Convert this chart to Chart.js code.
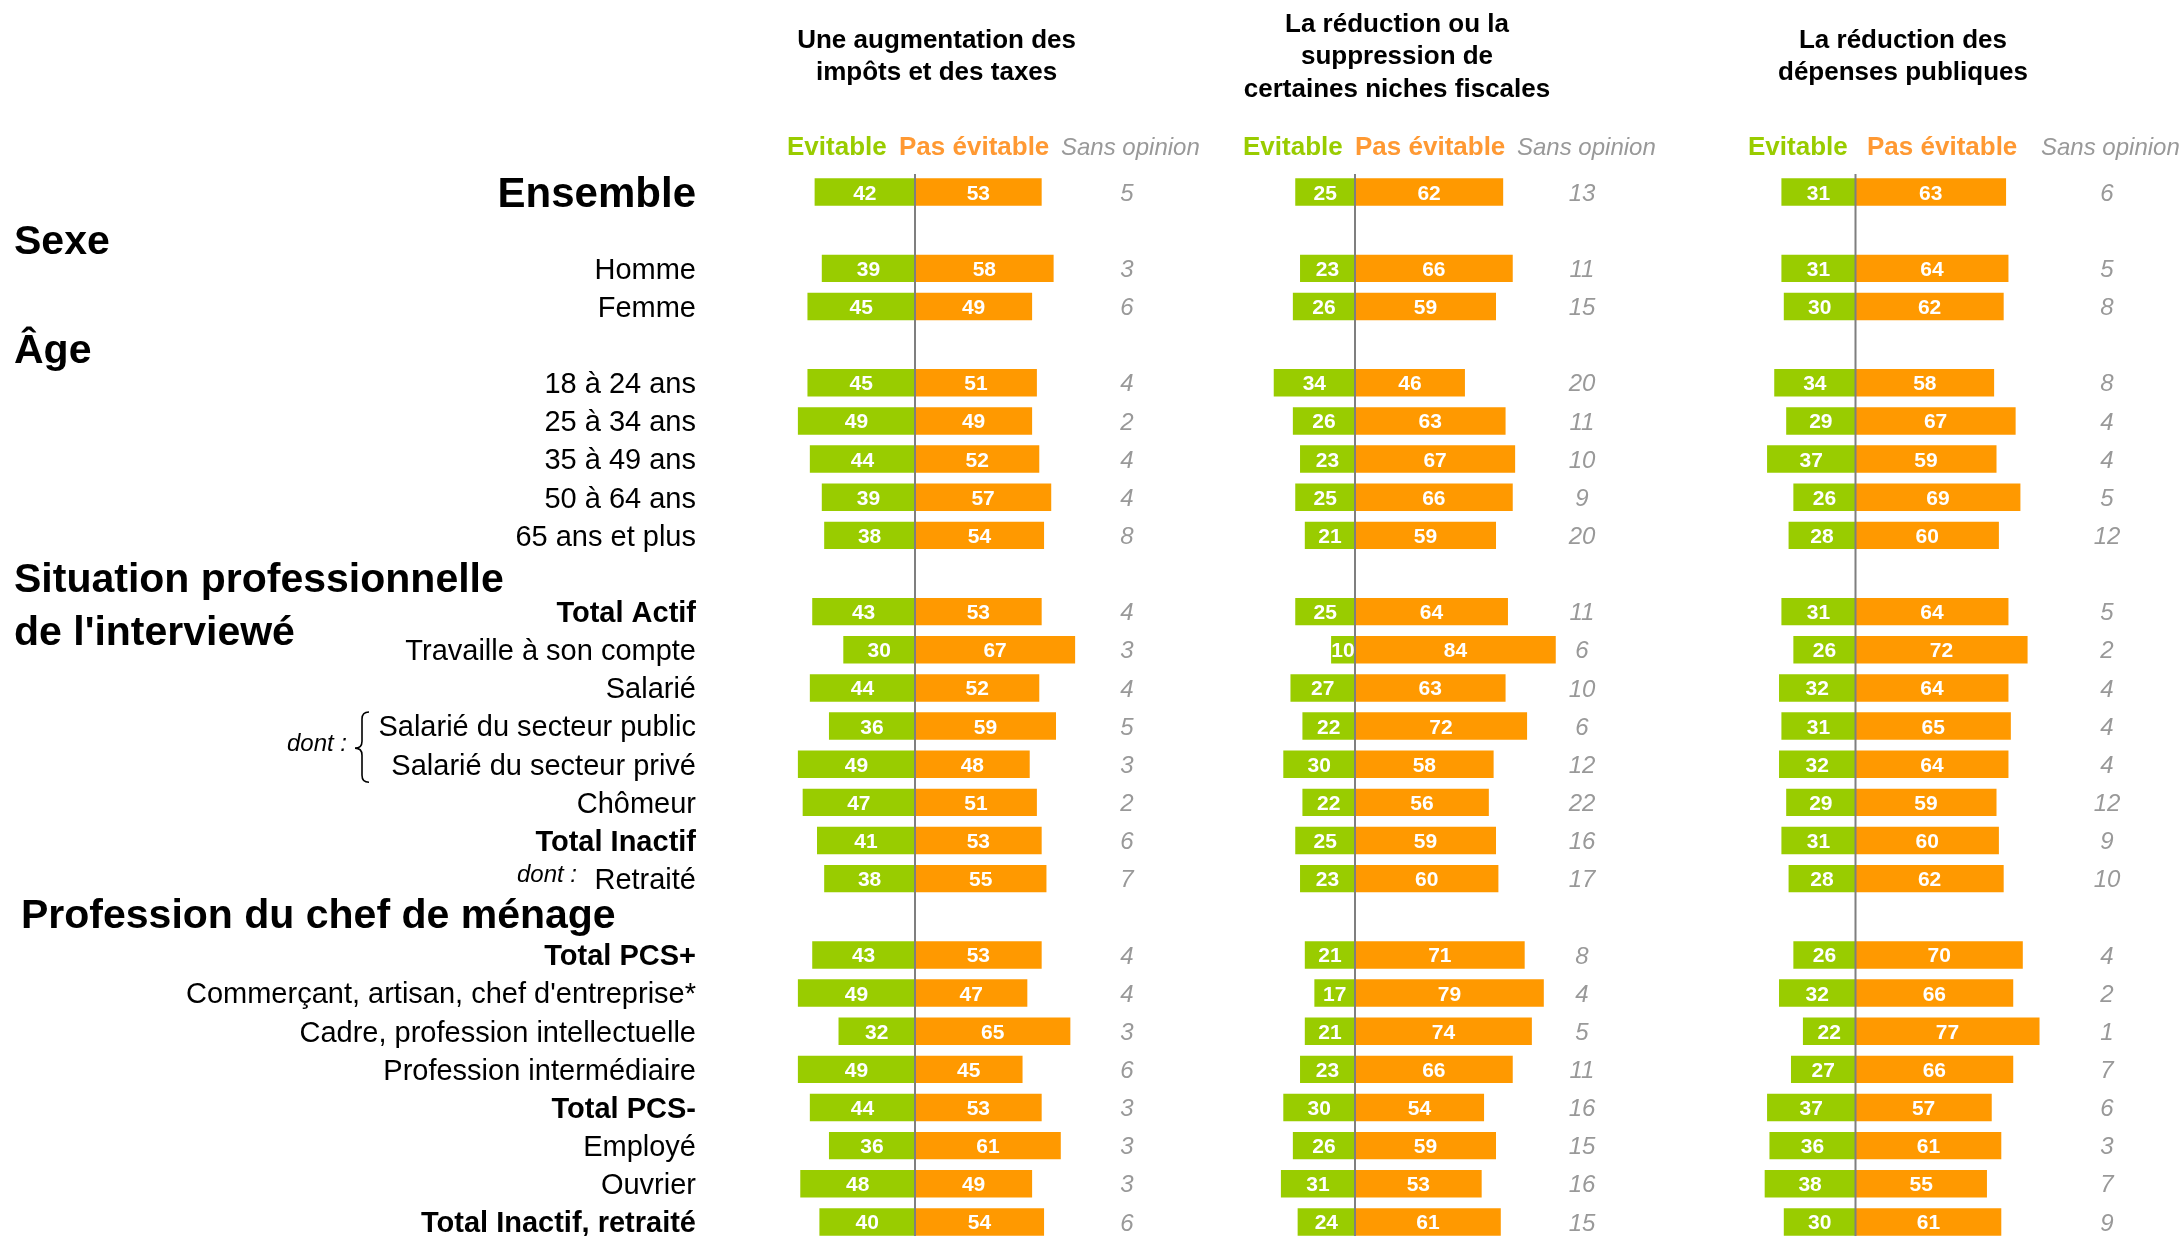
<!DOCTYPE html>
<html><head><meta charset="utf-8">
<script src="https://cdn.jsdelivr.net/npm/chart.js@4.4.1/dist/chart.umd.min.js"></script>
<style>
html,body{margin:0;padding:0;background:#fff;overflow:hidden}
#wrap{position:relative;width:2181px;height:1236px;overflow:hidden;background:#fff}
canvas{position:absolute;left:0;top:0}
</style></head><body>
<div id="wrap">
<canvas id="c1" width="2181" height="1250"></canvas>
<canvas id="c2" width="2181" height="1250"></canvas>
<canvas id="c3" width="2181" height="1250"></canvas>
</div>
<script>
// ---------- DATA ----------
const categories = [
  'Ensemble', 'Sexe', 'Homme', 'Femme', 'Âge',
  '18 à 24 ans', '25 à 34 ans', '35 à 49 ans', '50 à 64 ans', '65 ans et plus',
  ['Situation professionnelle', "de l'interviewé"],
  'Total Actif', 'Travaille à son compte', 'Salarié', 'Salarié du secteur public', 'Salarié du secteur privé',
  'Chômeur', 'Total Inactif', 'Retraité',
  'Profession du chef de ménage',
  'Total PCS+', "Commerçant, artisan, chef d'entreprise*", 'Cadre, profession intellectuelle',
  'Profession intermédiaire', 'Total PCS-', 'Employé', 'Ouvrier', 'Total Inactif, retraité'
];
const seriesNames = ['Evitable', 'Pas évitable', 'Sans opinion'];
const columnTitles = [
  ['Une augmentation des', 'impôts et des taxes'],
  ['La réduction ou la', 'suppression de', 'certaines niches fiscales'],
  ['La réduction des', 'dépenses publiques']
];
// header rows carry null
const impotsEvitable    = [42,null,39,45,null,45,49,44,39,38,null,43,30,44,36,49,47,41,38,null,43,49,32,49,44,36,48,40];
const impotsPasEvitable = [53,null,58,49,null,51,49,52,57,54,null,53,67,52,59,48,51,53,55,null,53,47,65,45,53,61,49,54];
const impotsSansOpinion = [5,null,3,6,null,4,2,4,4,8,null,4,3,4,5,3,2,6,7,null,4,4,3,6,3,3,3,6];

const nichesEvitable    = [25,null,23,26,null,34,26,23,25,21,null,25,10,27,22,30,22,25,23,null,21,17,21,23,30,26,31,24];
const nichesPasEvitable = [62,null,66,59,null,46,63,67,66,59,null,64,84,63,72,58,56,59,60,null,71,79,74,66,54,59,53,61];
const nichesSansOpinion = [13,null,11,15,null,20,11,10,9,20,null,11,6,10,6,12,22,16,17,null,8,4,5,11,16,15,16,15];

const depensesEvitable    = [31,null,31,30,null,34,29,37,26,28,null,31,26,32,31,32,29,31,28,null,26,32,22,27,37,36,38,30];
const depensesPasEvitable = [63,null,64,62,null,58,67,59,69,60,null,64,72,64,65,64,59,60,62,null,70,66,77,66,57,61,55,61];
const depensesSansOpinion = [6,null,5,8,null,8,4,4,5,12,null,5,2,4,4,4,12,9,10,null,4,2,1,7,6,3,7,9];

// ---------- STYLE / LAYOUT ----------
const FONT = "'Liberation Sans', Arial, Helvetica, sans-serif";
const GREEN = '#99CC00', ORANGE = '#FF9900', ORANGE_TXT = '#FF9933', GREY = '#999999';
const rowKind = ['big','header','n','n','header','n','n','n','n','n','header2','b','n','n','n','n','n','b','n','header','b','n','n','n','b','n','n','b'];
const headerLayout = { 1:{x:14, dy:[24]}, 4:{x:14, dy:[18.4]}, 10:{x:14, dy:[18.3, 71]}, 19:{x:21, dy:[11.3]} };
const LABEL_RIGHT = 696;
const PX_PER_UNIT = 2.39, XMIN = -60, XMAX = 100;
const W = 2181;

function txt(ctx, s, x, y, font, color, align) {
  ctx.font = font; ctx.fillStyle = color; ctx.textAlign = align || 'left';
  ctx.textBaseline = 'alphabetic'; ctx.fillText(s, x, y);
}

const columns = [
  { id:1, axisX:915, ev:impotsEvitable, pe:impotsPasEvitable, so:impotsSansOpinion, sansX:1127,
    titleX:936.6, titleY:[48.3, 80], legX:[787, 899, 1061], title:columnTitles[0] },
  { id:2, axisX:1355, ev:nichesEvitable, pe:nichesPasEvitable, so:nichesSansOpinion, sansX:1582,
    titleX:1397, titleY:[32.3, 64, 96.7], legX:[1243, 1355, 1517], title:columnTitles[1] },
  { id:3, axisX:1855.5, ev:depensesEvitable, pe:depensesPasEvitable, so:depensesSansOpinion, sansX:2107,
    titleX:1903, titleY:[48.3, 79.5], legX:[1748, 1867, 2041], title:columnTitles[2] }
];

function labelsPlugin() {
  return {
    id: 'rowLabels',
    afterDraw(chart) {
      const ctx = chart.ctx, ys = chart.scales.y;
      ctx.save();
      categories.forEach((lab, i) => {
        const y = ys.getPixelForValue(i);
        const k = rowKind[i];
        if (k === 'big') txt(ctx, lab, LABEL_RIGHT, y + 0.358*41, 'bold 42px ' + FONT, '#000', 'right');
        else if (k === 'b') txt(ctx, lab, LABEL_RIGHT, y + 0.358*29, 'bold 29px ' + FONT, '#000', 'right');
        else if (k === 'n') txt(ctx, lab, LABEL_RIGHT, y + 0.358*29, '29px ' + FONT, '#000', 'right');
        else {
          const h = headerLayout[i];
          const lines = Array.isArray(lab) ? lab : [lab];
          lines.forEach((l, j) => txt(ctx, l, h.x, y + h.dy[j], 'bold 41px ' + FONT, '#000', 'left'));
        }
      });
      // "dont :" annotations and brace
      const y14 = ys.getPixelForValue(14), y15 = ys.getPixelForValue(15), y18 = ys.getPixelForValue(18);
      const ym = (y14 + y15) / 2 + 3;
      txt(ctx, 'dont :', 347, ym + 3, 'italic 24px ' + FONT, '#000', 'right');
      txt(ctx, 'dont :', 577, y18 + 3, 'italic 24px ' + FONT, '#000', 'right');
      const top = y14 - 14, bot = y15 + 18, xr = 369, xm = 362, xl = 355;
      ctx.strokeStyle = '#000'; ctx.lineWidth = 1.6;
      ctx.beginPath();
      ctx.moveTo(xr, top);
      ctx.quadraticCurveTo(xm, top, xm, top + 7);
      ctx.lineTo(xm, ym - 7);
      ctx.quadraticCurveTo(xm, ym, xl, ym);
      ctx.quadraticCurveTo(xm, ym, xm, ym + 7);
      ctx.lineTo(xm, bot - 7);
      ctx.quadraticCurveTo(xm, bot, xr, bot);
      ctx.stroke();
      ctx.restore();
    }
  };
}

function columnPlugin(col) {
  return {
    id: 'col' + col.id,
    afterDatasetsDraw(chart) {
      const ctx = chart.ctx, xs = chart.scales.x, ys = chart.scales.y, ca = chart.chartArea;
      ctx.save();
      // zero line
      const x0 = xs.getPixelForValue(0);
      ctx.strokeStyle = '#7f7f7f'; ctx.lineWidth = 2;
      ctx.beginPath(); ctx.moveTo(x0, ca.top + 1); ctx.lineTo(x0, ca.bottom); ctx.stroke();
      // bar values
      const vals = [col.ev, col.pe];
      chart.data.datasets.forEach((ds, di) => {
        chart.getDatasetMeta(di).data.forEach((el, i) => {
          const v = vals[di][i];
          if (v == null) return;
          const p = el.getProps(['x', 'base', 'y'], true);
          txt(ctx, String(v), (p.x + p.base) / 2, p.y + 0.358*21, 'bold 21px ' + FONT, '#fff', 'center');
        });
      });
      // sans opinion
      col.so.forEach((v, i) => {
        if (v == null) return;
        const y = ys.getPixelForValue(i);
        txt(ctx, String(v), col.sansX, y + 0.358*24, 'italic 24px ' + FONT, GREY, 'center');
      });
      // title
      col.title.forEach((l, j) => txt(ctx, l, col.titleX, col.titleY[j], 'bold 26px ' + FONT, '#000', 'center'));
      // legend header
      txt(ctx, seriesNames[0], col.legX[0], 155, 'bold 26px ' + FONT, GREEN, 'left');
      txt(ctx, seriesNames[1], col.legX[1], 155, 'bold 26px ' + FONT, ORANGE_TXT, 'left');
      txt(ctx, seriesNames[2], col.legX[2], 155, 'italic 24px ' + FONT, GREY, 'left');
      ctx.restore();
    }
  };
}

columns.forEach((col, idx) => {
  const left = col.axisX - PX_PER_UNIT * (0 - XMIN);
  const right = W - (col.axisX + PX_PER_UNIT * XMAX);
  const plugins = [columnPlugin(col)];
  if (idx === 0) plugins.push(labelsPlugin());
  new Chart(document.getElementById('c' + col.id), {
    type: 'bar',
    data: {
      labels: categories,
      datasets: [
        { label: seriesNames[0], data: col.ev.map(v => v == null ? null : -v), backgroundColor: GREEN,
          barPercentage: 0.72, categoryPercentage: 1 },
        { label: seriesNames[1], data: col.pe, backgroundColor: ORANGE,
          barPercentage: 0.72, categoryPercentage: 1 }
      ]
    },
    options: {
      responsive: false, animation: false, events: [], indexAxis: 'y',
      layout: { padding: { left: left, right: right, top: 173, bottom: 9 } },
      plugins: { legend: { display: false }, tooltip: { enabled: false } },
      scales: {
        x: { display: false, stacked: true, min: XMIN, max: XMAX },
        y: { display: false, stacked: true }
      }
    },
    plugins: plugins
  });
});
</script>
</body></html>
